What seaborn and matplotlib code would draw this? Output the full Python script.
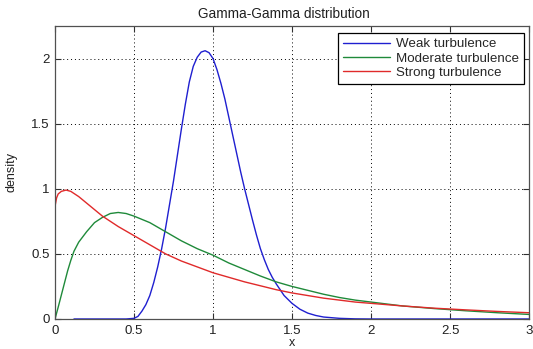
import matplotlib
matplotlib.use("Agg")
import matplotlib.pyplot as plt
import seaborn as sns
import pandas as pd

# Gamma-Gamma densities, sampled points
weak_x = [0.12, 0.2, 0.3, 0.4, 0.45, 0.5, 0.525, 0.55, 0.575, 0.6, 0.625, 0.65, 0.675,
          0.7, 0.725, 0.75, 0.775, 0.8, 0.825, 0.85, 0.875, 0.9, 0.925, 0.95, 0.975,
          1.0, 1.025, 1.05, 1.075, 1.1, 1.125, 1.15, 1.175, 1.2, 1.225, 1.25, 1.275,
          1.3, 1.325, 1.35, 1.375, 1.4, 1.45, 1.5, 1.55, 1.6, 1.65, 1.7, 1.8, 1.9,
          2.0, 2.5, 3.0]
weak_y = [0.0, 0.0, 0.0, 0.0, 0.0, 0.005, 0.02, 0.06, 0.11, 0.18, 0.28, 0.40, 0.54,
          0.70, 0.88, 1.06, 1.26, 1.46, 1.65, 1.82, 1.94, 2.01, 2.05, 2.06, 2.045,
          2.0, 1.915, 1.81, 1.69, 1.55, 1.41, 1.27, 1.13, 1.0, 0.88, 0.76, 0.645,
          0.54, 0.455, 0.38, 0.32, 0.27, 0.18, 0.12, 0.075, 0.045, 0.027, 0.015,
          0.005, 0.001, 0.0, 0.0, 0.0]

moderate_x = [0.0, 0.02, 0.05, 0.08, 0.1, 0.12, 0.15, 0.2, 0.25, 0.3, 0.35, 0.4, 0.45,
              0.5, 0.6, 0.7, 0.8, 0.9, 1.0, 1.1, 1.2, 1.3, 1.4, 1.5, 1.6, 1.7, 1.8,
              1.9, 2.0, 2.2, 2.4, 2.6, 2.8, 3.0]
moderate_y = [0.0, 0.09, 0.23, 0.37, 0.45, 0.52, 0.59, 0.67, 0.74, 0.78, 0.81, 0.818, 0.81,
              0.79, 0.74, 0.67, 0.60, 0.54, 0.49, 0.43, 0.38, 0.33, 0.285, 0.25, 0.22, 0.19,
              0.165, 0.145, 0.13, 0.10, 0.08, 0.063, 0.048, 0.035]

strong_x = [0.0, 0.01, 0.02, 0.04, 0.07, 0.1, 0.15, 0.2, 0.25, 0.3, 0.4, 0.5, 0.6, 0.7,
            0.8, 0.9, 1.0, 1.1, 1.2, 1.3, 1.4, 1.5, 1.6, 1.7, 1.8, 1.9, 2.0, 2.2, 2.4,
            2.6, 2.8, 3.0]
strong_y = [0.865, 0.93, 0.96, 0.98, 0.99, 0.98, 0.94, 0.89, 0.84, 0.79, 0.71, 0.64, 0.57,
            0.50, 0.445, 0.40, 0.355, 0.32, 0.285, 0.255, 0.225, 0.20, 0.18, 0.16, 0.145,
            0.13, 0.12, 0.10, 0.083, 0.07, 0.058, 0.048]

labels = ["Weak turbulence", "Moderate turbulence", "Strong turbulence"]
colors = ["#1f1fd0", "#1f8a3a", "#e02a2a"]
x_ticks = [0, 0.5, 1, 1.5, 2, 2.5, 3]
x_tick_labels = ["0", "0.5", "1", "1.5", "2", "2.5", "3"]
y_ticks = [0, 0.5, 1, 1.5, 2]
y_tick_labels = ["0", "0.5", "1", "1.5", "2"]

sns.set_style("white")
plt.rcParams["font.family"] = ["Liberation Sans", "DejaVu Sans"]

fig = plt.figure(figsize=(5.33, 3.49), dpi=100)
ax = fig.add_axes([0.1032, 0.086, 0.8893, 0.8395])

series = [(weak_x, weak_y), (moderate_x, moderate_y), (strong_x, strong_y)]
for (xs, ys), lab, col in zip(series, labels, colors):
    df = pd.DataFrame({"x": xs, "density": ys})
    sns.lineplot(data=df, x="x", y="density", ax=ax, color=col, label=lab,
                 linewidth=1.0, sort=False, estimator=None)

ax.set_xlim(0, 3)
ax.set_ylim(0, 2.25)
ax.set_xticks(x_ticks)
ax.set_xticklabels(x_tick_labels)
ax.set_yticks(y_ticks)
ax.set_yticklabels(y_tick_labels)
ax.grid(True, color="black", linestyle=(0, (1, 3)), linewidth=0.7)
ax.tick_params(direction="in", length=4, width=0.8, colors="#303030",
               labelsize=9.5, top=True, right=True, bottom=True, left=True,
               labelcolor="#202020", pad=4)
for sp in ax.spines.values():
    sp.set_color("#505050")
    sp.set_linewidth(0.9)

ax.set_title("Gamma-Gamma distribution", fontsize=9.8, color="#202020", pad=6,
             x=0.483)
ax.set_xlabel("x", fontsize=9, color="#202020", labelpad=0)
ax.set_ylabel("density", fontsize=9, color="#202020", labelpad=10)

leg = ax.legend(loc="upper right", bbox_to_anchor=(524 / 533, 1 - 32.7 / 349),
                bbox_transform=fig.transFigure, fontsize=9.6, frameon=True,
                fancybox=False, framealpha=1, edgecolor="black",
                handlelength=3.5, handletextpad=0.45, borderpad=0.4,
                labelspacing=0.15, borderaxespad=0)
leg.get_frame().set_linewidth(0.9)

fig.savefig("out.png", dpi=100)
